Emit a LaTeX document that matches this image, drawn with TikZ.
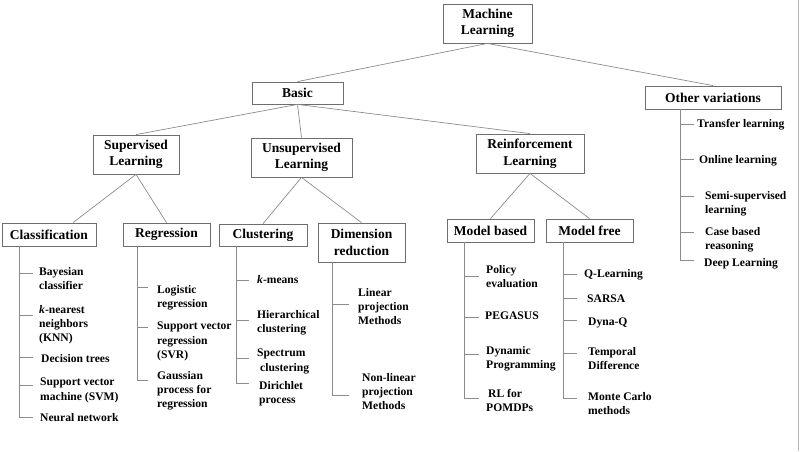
\documentclass[tikz,border=0pt]{standalone}
\usepackage{fontspec}
\setmainfont{Liberation Serif}
\usetikzlibrary{calc}
\definecolor{boxgray}{HTML}{6E6E6E}
\definecolor{linegray}{HTML}{8C8C8C}
\definecolor{edgegray}{HTML}{B8B8B8}
\newcommand\bx[6]{\node[box,minimum width=#4pt,minimum height=#5pt] (#1) at (#2,#3) {#6};}
\newcommand\itm[7]{\node[item] (#1) at (#2,#3-5) {#7};
  \draw[link] (#4 |- 0,#6) -- ++(#5,0);}
\begin{document}
\begin{tikzpicture}[x=1pt,y=-1pt,
  box/.style={draw=boxgray,line width=0.8pt,inner sep=0pt,align=center,
    font=\fontsize{13.5}{16.5}\selectfont\bfseries},
  item/.style={inner sep=0pt,align=left,anchor=north west,
    font=\fontsize{11.6}{14.2}\selectfont\bfseries},
  link/.style={draw=linegray,line width=0.7pt}]
\useasboundingbox (0,0) rectangle (800,451);
% boxes
\bx{ml}{487.5}{23.5}{89}{39}{Machine\\Learning}
\bx{basic}{297.5}{93}{91}{22}{Basic}
\bx{oth}{713}{97.5}{136}{23}{Other variations}
\bx{sup}{136}{154.5}{86}{39}{Supervised\\Learning}
\bx{unsup}{301.5}{157.5}{101}{39}{Unsupervised\\Learning}
\bx{rein}{530}{153.5}{108}{39}{Reinforcement\\Learning}
\bx{cls}{49}{234.5}{94}{23}{Classification}
\bx{reg}{166.5}{234.5}{87}{23}{Regression}
\bx{clu}{263}{235}{88}{22}{Clustering}
\bx{dim}{361.5}{242.5}{87}{39}{Dimension\\reduction}
\bx{mb}{490.5}{230.5}{87}{23}{Model based}
\bx{mf}{589.5}{230.5}{87}{23}{Model free}
% tree links
\draw[link] (ml.south) -- (basic.north);
\draw[link] (ml.south) -- (oth.north);
\draw[link] (basic.south) -- (sup.north);
\draw[link] (basic.south) -- (unsup.north);
\draw[link] (basic.south) -- (rein.north);
\draw[link] (sup.south) -- ($(cls.north)+(24,0)$);
\draw[link] (sup.south) -- (reg.north);
\draw[link] (unsup.south) -- (clu.north);
\draw[link] (unsup.south) -- (dim.north);
\draw[link] (rein.south) -- (mb.north);
\draw[link] (rein.south) -- (mf.north);
% list spines
\coordinate (clsv) at (cls.south -| 19,0);
\coordinate (regv) at (reg.south -| 137,0);
\coordinate (cluv) at (clu.south -| 236,0);
\coordinate (dimv) at (dim.south -| 332,0);
\coordinate (mbv) at (mb.south -| 464,0);
\coordinate (mfv) at (mf.south -| 563,0);
\coordinate (othv) at (oth.south -| 680,0);
\draw[link] (clsv) -- (clsv |- 0,417);
\draw[link] (regv) -- (regv |- 0,380);
\draw[link] (cluv) -- (cluv |- 0,383);
\draw[link] (dimv) -- (dimv |- 0,395);
\draw[link] (mbv) -- (mbv |- 0,398);
\draw[link] (mfv) -- (mfv |- 0,398);
\draw[link] (othv) -- (othv |- 0,260);
% classification
\itm{bay}{39}{272}{clsv}{14}{273}{Bayesian\\classifier}
\itm{knn}{39}{310}{clsv}{14}{315}{\textit{k}-nearest\\neighbors\\(KNN)}
\itm{dt}{41}{359}{clsv}{14}{357}{Decision trees}
\itm{svm}{40}{383}{clsv}{14}{385}{Support vector\\machine (SVM)}
\itm{nn}{40}{418}{clsv}{14}{417}{Neural network}
% regression
\itm{lr}{157}{290}{regv}{11}{287}{Logistic\\regression}
\itm{svr}{157}{327}{regv}{11}{327}{Support vector\\regression\\(SVR)}
\itm{gp}{157}{376}{regv}{11}{380}{Gaussian\\process for\\regression}
% clustering
\itm{km}{257}{280}{cluv}{13}{280}{\textit{k}-means}
\itm{hc}{257}{315}{cluv}{13}{320}{Hierarchical\\clustering}
\itm{sc}{257}{354}{cluv}{13}{358}{Spectrum\\\hspace*{3pt}clustering}
\itm{dp}{259}{386}{cluv}{13}{383}{Dirichlet\\process}
% dimension reduction
\itm{lp}{358}{293}{dimv}{17}{304}{Linear\\projection\\Methods}
\itm{nlp}{362}{378}{dimv}{17}{395}{Non-linear\\projection\\Methods}
% model based
\itm{pe}{486}{270}{mbv}{15}{276}{Policy\\evaluation}
\itm{peg}{485}{317}{mbv}{15}{317}{PEGASUS}
\itm{dyn}{486}{351}{mbv}{15}{354}{Dynamic\\Programming}
\itm{rl}{486}{394}{mbv}{15}{398}{\hspace*{2pt}RL for\\POMDPs}
% model free
\itm{ql}{584}{274}{mfv}{14}{274}{Q-Learning}
\itm{sarsa}{587}{300}{mfv}{14}{298}{SARSA}
\itm{dq}{588}{323}{mfv}{14}{320}{Dyna-Q}
\itm{td}{588}{352}{mfv}{14}{353}{Temporal\\Difference}
\itm{mc}{588}{397}{mfv}{14}{398}{Monte Carlo\\methods}
% other variations
\itm{tl}{697}{124}{othv}{14}{124}{Transfer learning}
\itm{ol}{699}{160}{othv}{14}{159}{Online learning}
\itm{ssl}{705}{196}{othv}{14}{196}{Semi-supervised\\learning}
\itm{cbr}{705}{232}{othv}{14}{232}{Case based\\reasoning}
\itm{dl}{704}{263}{othv}{14}{260}{Deep Learning}
% right edge
\draw[draw=edgegray,line width=0.8pt] (798,0) -- (798,451);
\end{tikzpicture}
\end{document}
